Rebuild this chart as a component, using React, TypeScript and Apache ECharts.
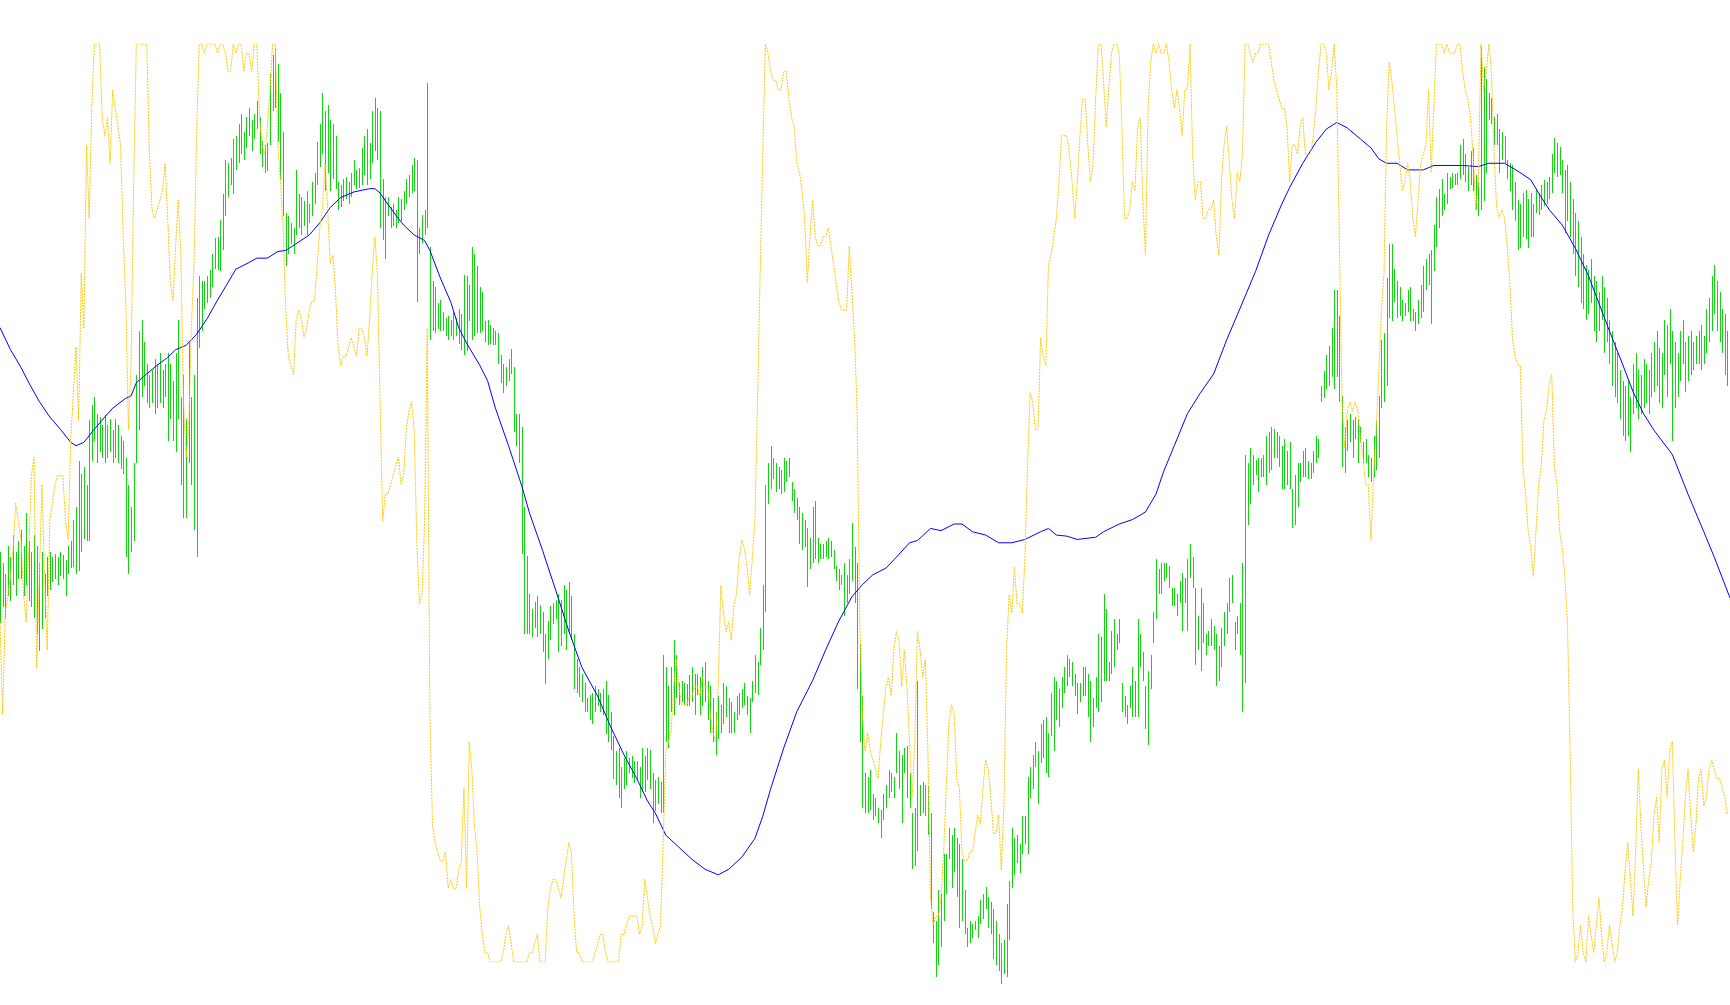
import React, { useEffect, useRef } from "react";
import * as echarts from "echarts";

// Price chart: high/low bars (index = bar number), price in points
const BAR_COUNT = 660;

const highs = [
  500,490,480,505,495,515,500,510,520,505,535,510,500,515,505,490,500,480,495,500,
  495,498,495,500,497,492,505,510,529,540,582,570,577,560,619,633,640,625,622,615,
  624,615,620,610,620,615,605,600,585,560,540,580,660,700,710,690,670,660,665,675,
  670,680,665,670,680,670,655,680,710,640,660,620,690,640,660,730,750,745,745,750,
  755,770,784,785,801,824,855,852,857,874,877,888,897,880,894,902,891,897,908,894,
  872,869,870,933,950,956,942,916,880,807,804,798,793,846,824,821,818,827,815,835,
  843,871,888,916,899,905,891,888,877,835,832,838,840,835,843,855,846,848,866,877,
  883,870,899,911,902,899,838,821,821,812,815,810,821,820,827,838,841,850,857,855,
  793,805,810,925,776,745,740,725,728,717,712,714,710,717,712,720,715,751,750,742,
  776,770,759,740,735,709,710,705,703,700,698,678,670,667,675,684,667,625,625,613,
  540,496,462,448,454,460,452,445,425,437,451,453,456,462,456,470,465,472,460,425,
  403,395,389,381,367,370,372,378,375,372,375,383,370,355,333,319,322,305,313,319,
  313,315,310,310,305,322,315,322,320,299,293,296,291,406,395,378,395,420,406,381,
  383,381,380,388,395,389,389,386,395,400,383,378,367,355,369,361,381,378,367,364,
  355,369,372,375,381,369,367,383,406,400,431,470,560,580,596,585,580,577,574,585,
  582,585,563,557,549,540,535,529,521,512,540,546,512,507,507,510,512,510,501,487,
  484,479,490,479,493,526,504,490,417,369,299,296,302,280,277,268,266,280,288,302,
  299,296,336,319,316,322,324,299,263,268,383,288,291,288,288,263,173,165,193,190,
  226,226,249,243,249,240,235,221,193,159,165,162,165,170,184,190,196,187,182,176,
  165,153,145,148,181,201,249,240,243,235,260,260,296,305,316,327,319,344,347,350,
  336,372,386,383,375,386,395,406,403,400,389,381,381,395,395,389,383,367,386,425,
  423,462,448,400,428,439,425,439,381,369,361,378,395,383,439,425,409,378,392,406,
  445,493,484,490,490,490,487,467,467,462,473,481,476,493,507,495,467,442,467,453,
  425,428,439,433,425,414,431,445,453,476,479,436,442,453,490,588,580,594,588,583,
  585,585,588,605,608,613,611,608,605,596,602,591,599,557,569,580,580,591,594,582,
  580,591,605,602,650,664,678,686,703,737,737,714,641,613,619,625,619,622,619,613,
  599,602,588,585,605,619,641,692,698,748,779,779,756,745,740,728,725,737,740,720,
  717,728,742,759,765,770,773,796,821,829,838,824,843,840,843,842,843,869,874,860,
  849,863,866,841,835,958,939,928,916,911,894,897,883,880,877,855,852,850,835,819,
  815,825,828,820,825,815,829,825,832,837,835,840,860,875,870,867,855,846,850,835,
  820,807,800,785,770,760,755,765,750,745,735,750,740,730,710,700,690,680,665,655,
  650,655,640,670,680,665,660,675,670,665,680,690,700,685,680,710,705,720,700,690,
  680,700,710,690,695,700,690,695,700,705,695,720,730,750,760,745,735,720,715,700,
];

const lows = [
  435,450,440,460,455,470,460,475,475,460,470,455,450,440,425,410,430,440,460,465,
  472,475,470,478,475,460,480,485,486,480,482,500,511,510,510,582,600,580,590,585,
  580,585,590,580,585,580,575,570,495,480,500,510,580,610,640,650,635,630,635,625,
  630,635,630,640,600,620,600,590,620,560,530,530,580,560,520,495,685,700,720,725,
  730,740,756,755,754,773,804,821,832,824,846,852,860,855,866,877,863,874,883,860,
  849,843,845,869,899,902,871,838,804,759,770,779,770,787,793,787,795,787,798,804,
  815,832,849,860,827,843,827,838,829,810,812,818,820,815,821,832,829,830,832,841,
  832,838,852,863,855,793,782,765,804,793,795,793,798,800,810,815,821,825,827,726,
  770,780,787,793,692,700,698,702,700,700,695,692,695,692,695,688,683,678,682,709,
  692,695,698,698,700,690,687,688,687,687,670,653,644,650,655,661,608,596,580,498,
  425,425,425,423,431,423,425,409,380,403,420,434,439,409,414,425,411,425,420,375,
  372,368,364,355,355,347,344,355,360,355,352,335,327,320,294,288,277,268,285,288,
  299,295,290,293,277,282,282,293,285,254,265,271,263,263,327,322,355,352,367,361,
  364,361,360,360,364,352,370,352,360,364,347,336,327,316,330,336,344,350,336,336,
  336,347,352,358,361,352,336,364,372,370,397,411,445,543,557,566,554,557,552,554,
  563,568,546,535,529,507,501,504,468,484,490,493,490,493,493,495,493,495,484,473,
  465,470,442,453,462,473,453,375,327,268,263,263,266,257,260,254,240,257,268,277,
  282,277,299,285,254,299,277,268,212,215,229,260,263,260,243,176,145,114,125,142,
  165,190,221,195,210,187,159,165,153,142,145,150,157,150,162,167,176,159,153,131,
  125,120,108,117,114,148,195,207,218,209,226,235,226,277,285,305,271,308,313,299,
  296,333,319,347,341,358,372,378,386,378,369,353,364,369,369,350,327,341,358,355,
  364,383,383,383,389,395,411,417,355,350,344,358,350,350,350,395,383,339,325,375,
  417,439,462,462,473,476,467,451,451,442,453,428,453,428,476,467,397,411,392,417,
  406,414,414,411,378,383,395,414,425,445,453,411,425,406,355,381,524,543,560,569,
  554,568,568,560,571,574,585,585,577,557,557,560,557,521,524,540,563,568,568,566,
  566,571,580,585,636,639,647,650,658,647,658,636,577,571,591,599,585,602,580,599,
  580,580,568,563,568,574,585,630,636,650,712,709,726,712,714,709,714,717,709,709,
  700,706,712,717,737,742,706,754,776,793,804,810,815,829,830,832,832,838,841,835,
  827,832,827,810,804,810,818,843,891,888,869,869,843,855,852,838,827,810,800,773,
  775,785,783,775,785,785,807,805,810,813,815,820,825,843,840,841,825,789,800,785,
  770,750,740,725,720,710,715,725,700,690,700,710,680,690,670,650,640,635,620,605,
  600,605,590,625,630,620,625,630,635,625,640,645,650,635,630,660,640,670,600,630,
  640,655,670,645,655,660,665,670,670,665,670,680,690,700,715,700,690,680,660,650,
];

// Oscillator (0..100), one value per bar
const stoch = [
  37,27,38,40,42,45,50,48,46,40,37,45,53,55,32,42,52,42,34,48,
  50,52,53,53,53,48,46,57,62,67,59,75,69,89,81,93,100,100,100,92,
  90,92,87,95,93,91,89,79,72,58,65,85,100,100,100,100,100,88,82,81,
  82,83,84,87,81,74,72,78,83,77,61,55,58,69,76,90,100,100,99,100,
  100,100,100,99,100,100,99,97,97,100,99,100,100,97,99,99,97,100,100,92,
  89,88,91,95,100,100,89,85,80,71,66,65,64,70,71,70,68,69,71,72,
  72,76,80,82,87,82,76,77,73,67,65,66,66,67,68,67,66,69,69,68,
  66,70,75,79,75,61,48,51,51,52,53,54,55,52,53,58,60,61,58,46,
  39,40,48,69,27,15,13,12,11,11,12,8,9,8,8,10,11,19,8,24,
  21,15,12,6,3,1,1,0,0,0,0,0,1,3,4,2,0,0,0,0,
  0,0,1,1,2,3,0,0,0,6,8,9,9,8,7,9,11,13,12,5,
  1,1,0,0,0,0,0,1,2,3,3,1,0,0,0,0,0,3,3,4,
  5,5,5,5,3,4,9,7,5,4,2,3,4,13,23,24,25,30,33,30,
  28,28,28,29,29,30,30,29,31,30,30,27,25,24,30,41,38,36,37,35,
  39,40,44,46,45,43,40,44,48,61,75,88,100,99,97,96,96,95,95,97,
  97,94,92,91,87,86,84,81,74,79,83,79,78,78,79,79,80,78,76,74,
  72,71,71,71,78,73,68,60,37,27,23,25,23,22,21,20,24,27,30,31,
  29,34,36,35,30,34,30,24,18,24,36,34,31,33,23,7,4,5,5,7,
  12,19,26,28,27,20,19,12,11,11,12,12,14,16,15,19,22,21,18,14,
  14,16,10,17,34,40,38,43,39,39,38,44,54,62,61,58,58,68,66,65,
  76,77,79,81,85,90,90,90,88,85,81,85,90,94,94,89,85,87,94,100,
  100,96,91,95,99,100,100,99,91,81,81,82,85,84,91,92,83,77,93,98,
  100,99,100,99,99,100,98,95,93,95,93,90,95,95,100,88,83,85,85,81,
  81,82,82,83,79,77,85,89,91,87,83,81,86,85,88,100,100,99,98,99,
  99,100,100,100,100,98,96,95,94,93,93,91,85,89,89,88,91,92,88,88,
  88,90,93,97,100,100,99,95,97,100,95,78,61,56,60,61,60,61,60,57,
  55,52,52,46,53,58,64,71,75,91,98,96,93,90,87,84,85,87,85,81,
  79,83,87,88,89,95,86,93,100,100,100,99,100,99,99,99,100,100,97,95,
  94,92,88,82,85,100,95,97,100,97,88,82,81,82,81,78,74,68,66,65,
  65,54,51,47,45,42,47,52,54,59,60,63,64,54,52,47,45,42,37,23,
  6,0,1,4,1,0,5,3,1,4,7,3,0,1,4,2,0,1,4,6,
  10,13,9,5,12,21,15,10,6,9,11,16,18,13,21,22,18,23,24,13,
  4,9,13,18,21,16,12,15,20,21,17,18,21,22,21,20,20,19,18,16,
];

// Moving average, read at these bar numbers
const maBar = [
  0,4,8,11,15,19,23,27,29,32,36,40,43,48,50,52,56,60,64,67,
  71,75,79,83,86,90,95,98,102,106,109,111,118,122,126,130,135,141,143,145,
  147,151,154,158,162,164,168,172,175,178,183,186,189,194,199,202,207,212,217,222,
  228,233,238,243,247,250,254,259,264,269,274,278,283,288,291,294,299,304,310,315,
  320,325,329,333,338,342,347,350,355,359,364,367,371,376,381,386,391,397,400,403,
  407,411,418,421,427,432,435,437,441,444,448,453,458,463,468,473,479,484,489,492,
  497,502,506,510,514,519,523,526,529,533,537,543,547,552,558,564,568,574,579,584,
  587,591,596,601,606,610,614,619,623,627,631,638,644,650,654,660,
];
const maLevel = [
  703,683,667,653,636,622,611,599,596,599,611,622,630,639,641,653,661,669,676,683,
  687,697,711,728,740,756,762,766,766,772,773,776,787,798,812,821,826,829,829,825,
  818,805,796,787,782,773,748,726,703,689,669,655,630,596,560,535,501,465,428,395,
  369,341,316,294,274,263,243,232,221,212,207,212,223,240,260,285,322,355,383,411,
  437,459,470,479,485,495,508,510,521,519,525,525,518,515,508,508,511,518,521,515,
  514,511,513,518,525,529,533,536,552,573,596,625,644,661,692,720,754,787,815,830,
  852,871,883,889,884,874,866,856,852,852,846,846,850,850,850,849,852,852,845,837,
  825,810,796,775,750,725,700,670,645,625,610,588,552,518,495,458,
];

export default function App() {
  const ref = useRef<HTMLDivElement>(null);

  useEffect(() => {
    document.body.style.margin = "0";
    const chart = echarts.init(ref.current as HTMLDivElement, null, { renderer: "svg" });
    const barData = highs.map((h, i) => [i, h, lows[i]]);
    const maData = maBar.map((b, i) => [b, maLevel[i]]);
    const stochData = stoch.map((v, i) => [i, v]);

    chart.setOption({
      animation: false,
      backgroundColor: "#ffffff",
      grid: [
        { left: 0, right: 0, top: 0, bottom: 0 },
        { left: 0, right: 0, top: 44, bottom: 43 },
      ],
      xAxis: [
        { type: "value", gridIndex: 0, min: 0, max: BAR_COUNT, show: false },
        { type: "value", gridIndex: 1, min: 0, max: BAR_COUNT, show: false },
      ],
      yAxis: [
        { type: "value", gridIndex: 0, min: 89, max: 1000, show: false },
        { type: "value", gridIndex: 1, min: 0, max: 100, show: false },
      ],
      series: [
        {
          type: "custom",
          xAxisIndex: 0,
          yAxisIndex: 0,
          data: barData,
          encode: { x: 0, y: [1, 2] },
          silent: true,
          renderItem: (params: any, api: any) => {
            const top = api.coord([api.value(0), api.value(1)]);
            const bottom = api.coord([api.value(0), api.value(2)]);
            const x = Math.round(top[0]) + 0.5;
            return {
              type: "line",
              shape: { x1: x, y1: Math.round(top[1]), x2: x, y2: Math.round(bottom[1]) },
              style: { stroke: "#0fd60f", lineWidth: 1 },
            };
          },
        },
        {
          type: "line",
          xAxisIndex: 0,
          yAxisIndex: 0,
          data: maData,
          symbol: "none",
          showSymbol: false,
          silent: true,
          lineStyle: { color: "#0000ff", width: 1 },
        },
        {
          type: "line",
          xAxisIndex: 1,
          yAxisIndex: 1,
          data: stochData,
          symbol: "none",
          showSymbol: false,
          silent: true,
          lineStyle: { color: "#ffc800", width: 1, type: [2, 1] },
        },
      ],
    });
    return () => chart.dispose();
  }, []);

  return <div ref={ref} style={{ width: 1730, height: 1005 }} />;
}
